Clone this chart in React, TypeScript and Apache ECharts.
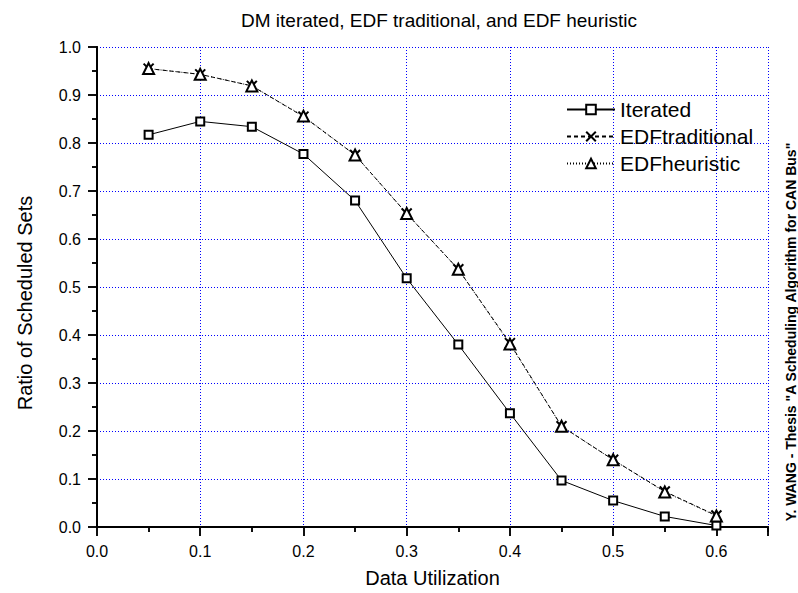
import React, { useEffect, useRef } from "react";
import * as echarts from "echarts";

const xValues = [0.05, 0.1, 0.15, 0.2, 0.25, 0.3, 0.35, 0.4, 0.45, 0.5, 0.55, 0.6];
const iterated = [0.817, 0.845, 0.834, 0.777, 0.68, 0.518, 0.38, 0.237, 0.097, 0.055, 0.022, 0.003];
const edfTraditional = [0.955, 0.943, 0.919, 0.855, 0.775, 0.653, 0.537, 0.383, 0.21, 0.14, 0.074, 0.024];
const edfHeuristic = [0.955, 0.943, 0.919, 0.856, 0.775, 0.653, 0.537, 0.381, 0.21, 0.14, 0.073, 0.023];

const titleText = "DM iterated, EDF traditional, and EDF heuristic";
const xTitle = "Data Utilization";
const yTitle = "Ratio of Scheduled Sets";
const sideNote = 'Y. WANG - Thesis "A Scheduling Algorithm for CAN Bus"';

const FONT = "'Liberation Sans', Arial, sans-serif";

const pair = (ys: number[]) => xValues.map((x, i) => [x, ys[i]]);

export default function App() {
  const ref = useRef<HTMLDivElement>(null);
  useEffect(() => {
    if (!ref.current) return;
    const chart = echarts.init(ref.current, null, { renderer: "svg" });
    const fmt = (v: number) => {
      const r = Math.round(v * 10);
      if (Math.abs(v * 10 - r) > 1e-6) return "";
      return (r / 10).toFixed(1);
    };
    const axisLine = { show: true, lineStyle: { color: "#000", width: 2 } };
    const grid = { left: 97, top: 47, right: 30, bottom: 60 };
    chart.setOption({
      animation: false,
      backgroundColor: "#fff",
      textStyle: { fontFamily: FONT },
      grid,
      title: {
        text: titleText,
        left: 434,
        top: 6,
        textAlign: "center",
        textStyle: { fontFamily: FONT, fontSize: 19, fontWeight: "normal", color: "#000" },
      },
      legend: {
        left: 566,
        top: 99,
        padding: 0,
        orient: "vertical",
        itemWidth: 48,
        itemHeight: 12,
        itemGap: 6,
        textStyle: { fontFamily: FONT, fontSize: 21, color: "#000" },
        data: ["Iterated", "EDFtraditional", "EDFheuristic"],
      },
      xAxis: [
        {
          type: "value",
          min: 0,
          max: 0.65,
          interval: 0.1,
          position: "bottom",
          name: xTitle,
          nameLocation: "middle",
          nameGap: 41,
          nameTextStyle: { fontFamily: FONT, fontSize: 20, color: "#000" },
          axisLine,
          axisTick: { show: true, inside: false, length: 9, lineStyle: { color: "#000", width: 1.5 } },
          minorTick: { show: true, splitNumber: 2, length: 5, lineStyle: { color: "#000", width: 1.5 } },
          axisLabel: { formatter: fmt, fontFamily: FONT, fontSize: 16, color: "#000", margin: 16, showMaxLabel: false },
          splitLine: { show: true, lineStyle: { color: "#0000ff", type: [1, 2], width: 1 } },
        },
        {
          type: "value",
          min: 0,
          max: 0.65,
          interval: 0.1,
          position: "top",
          axisLine,
          axisTick: { show: true, inside: true, length: 9, lineStyle: { color: "#000", width: 1.5 } },
          minorTick: { show: true, splitNumber: 2, length: 5, lineStyle: { color: "#000", width: 1.5 } },
          axisLabel: { show: false },
          splitLine: { show: false },
        },
      ],
      yAxis: [
        {
          type: "value",
          min: 0,
          max: 1,
          interval: 0.1,
          position: "left",
          axisLine,
          axisTick: { show: true, inside: false, length: 9, lineStyle: { color: "#000", width: 1.5 } },
          minorTick: { show: true, splitNumber: 2, length: 5, lineStyle: { color: "#000", width: 1.5 } },
          axisLabel: { formatter: fmt, fontFamily: FONT, fontSize: 16, color: "#000", margin: 16 },
          splitLine: { show: true, lineStyle: { color: "#0000ff", type: [1, 2], width: 1 } },
        },
        {
          type: "value",
          min: 0,
          max: 1,
          interval: 0.1,
          position: "right",
          axisLine,
          axisTick: { show: true, inside: true, length: 9, lineStyle: { color: "#000", width: 1.5 } },
          minorTick: { show: true, splitNumber: 2, length: 5, lineStyle: { color: "#000", width: 1.5 } },
          axisLabel: { show: false },
          splitLine: { show: false },
        },
      ],
      graphic: [
        {
          type: "text",
          x: 25,
          y: 303,
          rotation: Math.PI / 2,
          style: {
            text: yTitle,
            font: `20px ${FONT}`,
            fill: "#000",
            textAlign: "center",
            textVerticalAlign: "middle",
          },
        },
        {
          type: "text",
          x: 791,
          y: 332,
          rotation: Math.PI / 2,
          style: {
            text: sideNote,
            font: `bold 14px ${FONT}`,
            fill: "#000",
            textAlign: "center",
            textVerticalAlign: "middle",
          },
        },
      ],
      series: [
        {
          name: "Iterated",
          type: "line",
          data: pair(iterated),
          symbol: "rect",
          symbolSize: 8,
          lineStyle: { color: "#000", width: 1, type: "solid" },
          itemStyle: { color: "#fff", borderColor: "#000", borderWidth: 2 },
          z: 3,
        },
        {
          name: "EDFtraditional",
          type: "line",
          data: pair(edfTraditional),
          symbol: "path://M0,0L10,10M10,0L0,10",
          symbolSize: 10,
          lineStyle: { color: "#000", width: 1, type: [4, 3] },
          itemStyle: { color: "none", borderColor: "#000", borderWidth: 2 },
          z: 3,
        },
        {
          name: "EDFheuristic",
          type: "line",
          data: pair(edfHeuristic),
          symbol: "triangle",
          symbolSize: 11,
          lineStyle: { color: "#000", width: 1, type: [1, 2] },
          itemStyle: { color: "#fff", borderColor: "#000", borderWidth: 2 },
          z: 4,
        },
      ],
    });
    return () => chart.dispose();
  }, []);
  return (
    <div
      ref={ref}
      style={{ position: "absolute", left: 0, top: 0, width: 798, height: 593, background: "#fff" }}
    />
  );
}
